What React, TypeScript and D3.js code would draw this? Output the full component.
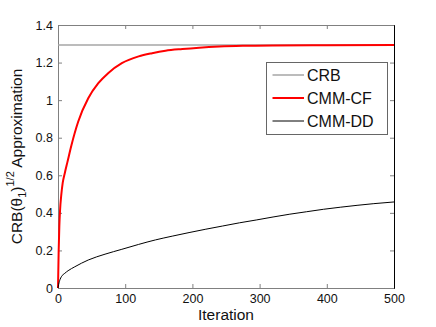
import React, { useEffect, useRef } from "react";
import * as d3 from "d3";

// CRB reference level
const crbIter = [0, 500];
const crbVals = [1.293, 1.293];

// CMM-CF (red)
const cfIter = [0, 1, 2, 3, 5, 7, 10, 14, 20, 30, 45, 60, 75, 95, 120, 140, 160, 185, 210, 240, 275, 320, 400, 500];
const cfVals = [0, 0.2, 0.33, 0.41, 0.5, 0.56, 0.61, 0.67, 0.76, 0.885, 1.01, 1.09, 1.145, 1.197, 1.233, 1.25, 1.263, 1.272, 1.279, 1.285, 1.289, 1.291, 1.292, 1.293];

// CMM-DD (black)
const ddIter = [0, 1, 3, 5, 10, 15, 25, 45, 70, 95, 120, 145, 170, 195, 220, 245, 270, 295, 320, 345, 370, 395, 420, 445, 470, 500];
const ddVals = [0, 0.02, 0.045, 0.06, 0.078, 0.092, 0.113, 0.149, 0.18, 0.206, 0.232, 0.256, 0.276, 0.295, 0.313, 0.33, 0.347, 0.362, 0.378, 0.393, 0.406, 0.419, 0.43, 0.44, 0.449, 0.458];

const xTicks = [0, 100, 200, 300, 400, 500];
const yTicks = [0, 0.2, 0.4, 0.6, 0.8, 1, 1.2, 1.4];
const legendNames = ["CRB", "CMM-CF", "CMM-DD"];

const W = 436, H = 327;
const FONT = "'Liberation Sans', Arial, sans-serif";

export default function App() {
  const ref = useRef<SVGSVGElement>(null);

  useEffect(() => {
    const svg = d3.select(ref.current);
    svg.selectAll("*").remove();

    const left = 58, right = 394, top = 25, bottom = 288;
    const x = d3.scaleLinear().domain([0, 500]).range([left, right]);
    const y = d3.scaleLinear().domain([0, 1.4]).range([bottom, top]);

    const fmt = (d: any) => String(+(+d).toFixed(1));

    // frame
    svg.append("rect").attr("x", left).attr("y", top).attr("width", right - left).attr("height", bottom - top)
      .attr("fill", "#fff");

    const gx = svg.append("g").attr("transform", "translate(0," + bottom + ")")
      .call(d3.axisBottom(x).tickValues(xTicks).tickSize(-4).tickPadding(6).tickFormat(fmt as any));
    const gy = svg.append("g").attr("transform", "translate(" + left + ",0)")
      .call(d3.axisLeft(y).tickValues(yTicks).tickSize(-4).tickPadding(5).tickFormat(fmt as any));
    const gt = svg.append("g").attr("transform", "translate(0," + top + ")")
      .call(d3.axisTop(x).tickValues(xTicks).tickSize(-4).tickFormat(() => ""));
    const gr = svg.append("g").attr("transform", "translate(" + right + ",0)")
      .call(d3.axisRight(y).tickValues(yTicks).tickSize(-4).tickFormat(() => ""));

    [gx, gy, gt, gr].forEach(g => {
      g.select(".domain").attr("stroke", "#808080");
      g.selectAll(".tick line").attr("stroke", "#808080");
      g.selectAll("text").attr("font-family", FONT).attr("font-size", 12.5).attr("fill", "#111");
    });
    gr.select(".domain").attr("stroke", "#000");

    const line = d3.line<[number, number]>()
      .x(d => x(d[0]))
      .y(d => y(d[1]))
      .curve(d3.curveMonotoneX);

    const series = [
      { it: crbIter, v: crbVals, color: "#a6a6a6", w: 1.5 },
      { it: cfIter, v: cfVals, color: "#ff0000", w: 2 },
      { it: ddIter, v: ddVals, color: "#000000", w: 1 },
    ];

    series.forEach(s => {
      svg.append("path")
        .datum(s.it.map((t, i) => [t, s.v[i]] as [number, number]))
        .attr("d", line)
        .attr("fill", "none")
        .attr("stroke", s.color)
        .attr("stroke-width", s.w);
    });

    // legend
    const lg = svg.append("g");
    lg.append("rect").attr("x", 266.5).attr("y", 62.5).attr("width", 121).attr("height", 72)
      .attr("fill", "#fff").attr("stroke", "#666").attr("stroke-width", 1);
    legendNames.forEach((name, i) => {
      const yy = 75 + i * 23;
      lg.append("line").attr("x1", 272.5).attr("x2", 304).attr("y1", yy).attr("y2", yy)
        .attr("stroke", series[i].color).attr("stroke-width", series[i].w);
      lg.append("text").attr("x", 307).attr("y", yy + 6).text(name)
        .attr("font-family", FONT).attr("font-size", 16).attr("fill", "#111");
    });

    // axis labels
    svg.append("text").attr("x", (left + right) / 2).attr("y", 320).attr("text-anchor", "middle")
      .attr("font-family", FONT).attr("font-size", 15.5).attr("fill", "#111").text("Iteration");

    const yl = svg.append("text")
      .attr("transform", "translate(21.5," + (top + bottom) / 2 + ") rotate(-90)")
      .attr("text-anchor", "middle")
      .attr("font-family", FONT).attr("font-size", 15.5).attr("fill", "#111");
    yl.append("tspan").text("CRB(θ");
    yl.append("tspan").attr("font-size", 11).attr("dy", 4).text("1");
    yl.append("tspan").attr("dy", -4).text(")");
    yl.append("tspan").attr("font-size", 11).attr("dy", -8).text("1/2");
    yl.append("tspan").attr("dy", 8).text(" Approximation");
  }, []);

  return (
    <svg ref={ref} width={W} height={H}
      style={{ position: "absolute", left: 0, top: 0, background: "#fff" }} />
  );
}
